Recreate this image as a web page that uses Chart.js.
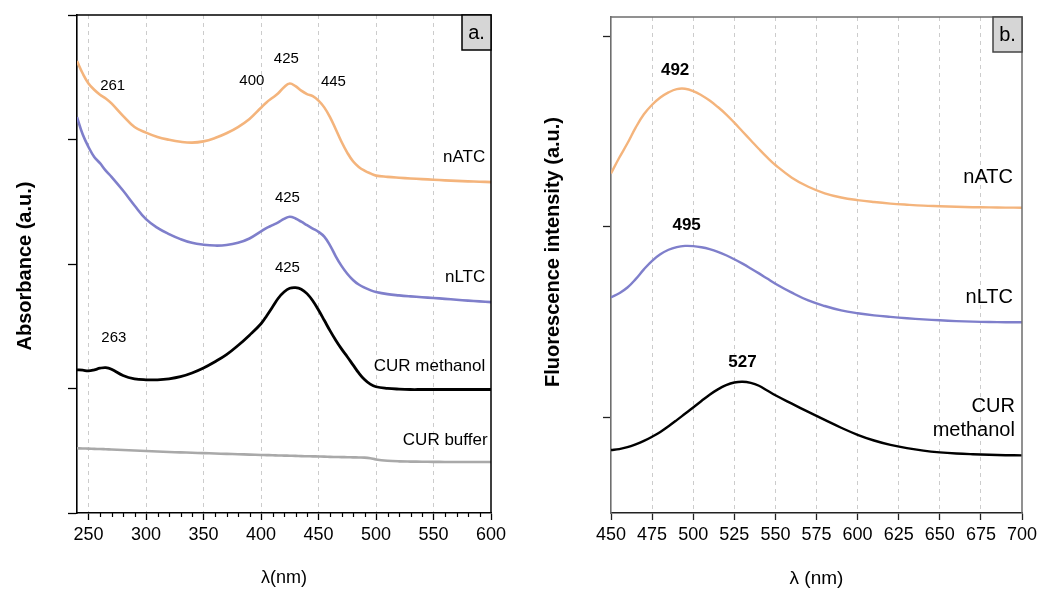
<!DOCTYPE html>
<html>
<head>
<meta charset="utf-8">
<title>CUR absorption and emission spectra</title>
<script src="https://cdn.jsdelivr.net/npm/chart.js@4.4.0/dist/chart.umd.min.js"></script>
<style>
  html, body { margin: 0; padding: 0; background: #fff; }
  #wrap { position: relative; width: 1055px; height: 590px; overflow: hidden; }
  #absChart { position: absolute; left: 0; top: 0; }
  #fluChart { position: absolute; left: 525px; top: 0; }
</style>
</head>
<body>
<div id="wrap">
  <canvas id="absChart" width="525" height="590"></canvas>
  <canvas id="fluChart" width="530" height="590"></canvas>
</div>
<script>
// --- PANEL a: UV-vis absorbance (a.u.) ---
const absWavelength = [240, 245, 250, 255, 260, 265, 270,
  280, 290, 300, 310, 320, 330, 340, 350, 360, 370, 380, 390,
  400, 405, 410, 415, 420, 425, 430, 435, 440, 445, 450, 455, 460, 465, 470, 475, 480, 485, 490, 495, 500,
  510, 520, 530, 540, 550, 560, 570, 580, 590, 600];
const absNATC = [3.630, 3.530, 3.450, 3.400, 3.360, 3.330, 3.290,
  3.190, 3.100, 3.055, 3.020, 2.998, 2.982, 2.975, 2.985, 3.012, 3.050, 3.100, 3.165,
  3.255, 3.300, 3.335, 3.372, 3.420, 3.450, 3.428, 3.392, 3.365, 3.348, 3.312, 3.258, 3.180, 3.082, 2.982, 2.895, 2.825, 2.780, 2.750, 2.728, 2.710,
  2.700, 2.693, 2.687, 2.682, 2.677, 2.672, 2.668, 2.664, 2.661, 2.658];
const absNLTC = [3.180, 3.040, 2.940, 2.860, 2.810, 2.750, 2.700,
  2.590, 2.470, 2.360, 2.290, 2.240, 2.200, 2.170, 2.155, 2.148, 2.152, 2.170, 2.205,
  2.262, 2.290, 2.312, 2.335, 2.362, 2.380, 2.366, 2.340, 2.312, 2.285, 2.258, 2.220, 2.150, 2.062, 1.985, 1.922, 1.872, 1.835, 1.810, 1.790, 1.775,
  1.758, 1.748, 1.740, 1.733, 1.727, 1.720, 1.713, 1.706, 1.700, 1.694];
const absCURMethanol = [1.150, 1.147, 1.142, 1.150, 1.163, 1.168, 1.155,
  1.105, 1.078, 1.070, 1.070, 1.078, 1.095, 1.125, 1.165, 1.215, 1.272, 1.345, 1.428,
  1.520, 1.585, 1.655, 1.725, 1.775, 1.805, 1.810, 1.798, 1.762, 1.705, 1.630, 1.548, 1.465, 1.388, 1.318, 1.255, 1.190, 1.125, 1.072, 1.035, 1.014,
  1.001, 0.995, 0.992, 0.992, 0.992, 0.992, 0.992, 0.992, 0.992, 0.992];
const absCURBuffer = [0.520, 0.518, 0.517, 0.515, 0.514, 0.512, 0.510,
  0.506, 0.502, 0.498, 0.494, 0.490, 0.487, 0.484, 0.481, 0.478, 0.475, 0.472, 0.469,
  0.466, 0.465, 0.464, 0.462, 0.461, 0.460, 0.459, 0.457, 0.456, 0.455, 0.454, 0.453, 0.451, 0.450, 0.449, 0.448, 0.447, 0.446, 0.445, 0.440, 0.430,
  0.420, 0.415, 0.413, 0.412, 0.411, 0.410, 0.410, 0.410, 0.410, 0.410];
const absXTicks = [250, 260, 270, 280, 290, 300, 310, 320, 330, 340, 350, 360, 370, 380, 390, 400,
  410, 420, 430, 440, 450, 460, 470, 480, 490, 500, 510, 520, 530, 540, 550, 560, 570, 580, 590, 600];
const absYTicks = [0, 1, 2, 3, 4];

// --- PANEL b: fluorescence intensity (a.u.) ---
const fluWavelength = [450, 455, 460, 465, 470, 475, 480, 485, 490, 495, 500, 505, 510, 515, 520, 525, 530, 535, 540, 545, 550,
  560, 570, 580, 590, 600, 610, 620, 630, 640, 650, 660, 670, 680, 690, 700];
const fluNATC = [1.780, 1.862, 1.938, 2.020, 2.090, 2.140, 2.178, 2.205, 2.222, 2.224, 2.212, 2.190, 2.162, 2.128, 2.090, 2.046, 2.000, 1.954, 1.908, 1.864, 1.824,
  1.758, 1.710, 1.676, 1.654, 1.640, 1.630, 1.622, 1.616, 1.611, 1.608, 1.605, 1.603, 1.602, 1.601, 1.600];
const fluNLTC = [1.130, 1.152, 1.182, 1.226, 1.277, 1.322, 1.356, 1.380, 1.394, 1.400, 1.399, 1.393, 1.383, 1.369, 1.351, 1.330, 1.307, 1.282, 1.256, 1.229, 1.202,
  1.155, 1.114, 1.085, 1.062, 1.047, 1.036, 1.028, 1.021, 1.015, 1.010, 1.006, 1.003, 1.001, 1.000, 1.000];
const fluCURMethanol = [0.330, 0.335, 0.345, 0.360, 0.378, 0.400, 0.425, 0.455, 0.487, 0.520, 0.553, 0.587, 0.620, 0.648, 0.670, 0.684, 0.688, 0.682, 0.667, 0.642, 0.617,
  0.573, 0.530, 0.488, 0.447, 0.410, 0.380, 0.357, 0.340, 0.327, 0.318, 0.312, 0.308, 0.305, 0.303, 0.302];
const fluXTicks = [450, 475, 500, 525, 550, 575, 600, 625, 650, 675, 700];
const fluYTicks = [0.5, 1.5, 2.5];

// --- annotations, anchored in data units ---
const absPeakLabels = [
  { text: '261', x: 271, y: 3.43 },
  { text: '400', x: 392, y: 3.47 },
  { text: '425', x: 422, y: 3.65 },
  { text: '445', x: 463, y: 3.46 },
  { text: '425', x: 423, y: 2.53 },
  { text: '425', x: 423, y: 1.97 },
  { text: '263', x: 272, y: 1.41 }
];
const absCurveNames = [
  { text: 'nATC', x: 595, y: 2.86 },
  { text: 'nLTC', x: 595, y: 1.89 },
  { text: 'CUR methanol', x: 595, y: 1.18 },
  { text: 'CUR buffer', x: 597, y: 0.58 }
];
const fluPeakLabels = [
  { text: '492', x: 489, y: 2.32 },
  { text: '495', x: 496, y: 1.51 },
  { text: '527', x: 530, y: 0.79 }
];
const fluCurveNames = [
  { text: 'nATC', x: 694.5, y: 1.76 },
  { text: 'nLTC', x: 694.5, y: 1.13 },
  { text: 'CUR', x: 695.7, y: 0.56 },
  { text: 'methanol', x: 695.7, y: 0.435 }
];

const FONT = "'Liberation Sans', Arial, Helvetica, sans-serif";
Chart.defaults.font.family = FONT;
Chart.defaults.color = '#000';

const ORANGE = '#f4b47c';
const PURPLE = '#7f7fcb';
const BLACK = '#000000';
const GREY = '#a9a9a9';

function series(label, xs, ys, color, width) {
  return {
    label: label,
    data: xs.map((x, i) => ({ x: x, y: ys[i] })),
    borderColor: color,
    borderWidth: width,
    pointRadius: 0,
    fill: false,
    tension: 0.4
  };
}

// frame, minor ticks, panel letter, annotations and axis titles
const panelDecor = {
  id: 'panelDecor',
  afterDraw(chart, args, o) {
    const { ctx, chartArea: a, scales: { x, y } } = chart;
    ctx.save();

    ctx.strokeStyle = o.frameColor;
    ctx.lineWidth = 1.5;
    ctx.beginPath();
    ctx.moveTo(a.left, a.top);
    ctx.lineTo(a.right, a.top);
    ctx.lineTo(a.right, a.bottom);
    ctx.stroke();

    if (o.minorTicks) {
      ctx.strokeStyle = '#000';
      ctx.lineWidth = 1.2;
      o.minorTicks.forEach(v => {
        if (v % 50 === 0) return;
        const px = Math.round(x.getPixelForValue(v)) + 0.5;
        ctx.beginPath();
        ctx.moveTo(px, a.bottom);
        ctx.lineTo(px, a.bottom + 4);
        ctx.stroke();
      });
    }

    // panel letter box
    const bw = 29, bh = 35;
    ctx.fillStyle = '#d6d6d6';
    ctx.fillRect(a.right - bw, a.top, bw, bh);
    ctx.strokeStyle = o.boxColor;
    ctx.lineWidth = 1.5;
    ctx.strokeRect(a.right - bw, a.top, bw, bh);
    ctx.fillStyle = '#000';
    ctx.font = '20px ' + FONT;
    ctx.textAlign = 'center';
    ctx.textBaseline = 'middle';
    ctx.fillText(o.letter, a.right - bw / 2, a.top + bh / 2 + 1);

    ctx.font = o.peakFont;
    ctx.textAlign = 'center';
    o.peaks.forEach(l => ctx.fillText(l.text, x.getPixelForValue(l.x), y.getPixelForValue(l.y)));

    ctx.font = o.nameFont;
    ctx.textAlign = 'right';
    o.names.forEach(l => ctx.fillText(l.text, x.getPixelForValue(l.x), y.getPixelForValue(l.y)));

    // axis titles
    ctx.textAlign = 'center';
    ctx.font = o.xTitleFont;
    ctx.fillText(o.xTitle, (a.left + a.right) / 2, o.xTitleY);
    ctx.save();
    ctx.translate(o.yTitleX, o.yTitleY);
    ctx.rotate(-Math.PI / 2);
    ctx.font = 'bold 20px ' + FONT;
    ctx.fillText(o.yTitle, 0, 0);
    ctx.restore();

    ctx.restore();
  }
};

const absChart = new Chart(document.getElementById('absChart'), {
  type: 'line',
  data: {
    datasets: [
      series('nATC', absWavelength, absNATC, ORANGE, 2.6),
      series('nLTC', absWavelength, absNLTC, PURPLE, 2.6),
      series('CUR methanol', absWavelength, absCURMethanol, BLACK, 2.8),
      series('CUR buffer', absWavelength, absCURBuffer, GREY, 2.6)
    ]
  },
  options: {
    responsive: false,
    animation: false,
    layout: { padding: { left: 0, right: 34, top: 15, bottom: 0 } },
    plugins: {
      legend: { display: false },
      tooltip: { enabled: false },
      panelDecor: {
        frameColor: '#000', boxColor: '#000', letter: 'a.',
        minorTicks: absXTicks,
        peaks: absPeakLabels, names: absCurveNames,
        peakFont: '15px ' + FONT, nameFont: '17px ' + FONT,
        xTitle: 'λ(nm)', xTitleFont: '18px ' + FONT, xTitleY: 578,
        yTitle: 'Absorbance (a.u.)', yTitleX: 25, yTitleY: 266
      }
    },
    scales: {
      x: {
        type: 'linear', min: 240, max: 600,
        afterBuildTicks: s => { s.ticks = absXTicks.filter(v => v % 50 === 0).map(v => ({ value: v })); },
        afterFit: s => { s.height = 77; },
        ticks: { font: { size: 18 }, padding: 4, maxRotation: 0, autoSkip: false },
        grid: {
          color: c => (c.tick && c.tick.value < 600 ? '#cccccc' : 'rgba(0,0,0,0)'),
          lineWidth: 1, tickLength: 7, tickColor: '#000', tickWidth: 1.3
        },
        border: { color: '#000', width: 1.6, dash: [4, 4] }
      },
      y: {
        min: 0, max: 4,
        afterBuildTicks: s => { s.ticks = absYTicks.map(v => ({ value: v })); },
        afterFit: s => { s.width = 77; },
        ticks: { display: false },
        grid: { drawOnChartArea: false, tickLength: 9, tickColor: '#000', tickWidth: 1.3 },
        border: { color: '#000', width: 1.6 }
      }
    }
  },
  plugins: [panelDecor]
});

const fluChart = new Chart(document.getElementById('fluChart'), {
  type: 'line',
  data: {
    datasets: [
      series('nATC', fluWavelength, fluNATC, ORANGE, 2.4),
      series('nLTC', fluWavelength, fluNLTC, PURPLE, 2.4),
      series('CUR methanol', fluWavelength, fluCURMethanol, BLACK, 2.4)
    ]
  },
  options: {
    responsive: false,
    animation: false,
    layout: { padding: { left: 0, right: 33, top: 17, bottom: 0 } },
    plugins: {
      legend: { display: false },
      tooltip: { enabled: false },
      panelDecor: {
        frameColor: '#6e6e6e', boxColor: '#444', letter: 'b.',
        minorTicks: null,
        peaks: fluPeakLabels, names: fluCurveNames,
        peakFont: 'bold 17px ' + FONT, nameFont: '20px ' + FONT,
        xTitle: 'λ (nm)', xTitleFont: '19px ' + FONT, xTitleY: 579,
        yTitle: 'Fluorescence intensity (a.u.)', yTitleX: 28, yTitleY: 252
      }
    },
    scales: {
      x: {
        type: 'linear', min: 450, max: 700,
        afterBuildTicks: s => { s.ticks = fluXTicks.map(v => ({ value: v })); },
        afterFit: s => { s.height = 77; },
        ticks: { font: { size: 18 }, padding: 4, maxRotation: 0, autoSkip: false },
        grid: {
          color: c => (c.tick && c.tick.value > 450 && c.tick.value < 700 ? '#cccccc' : 'rgba(0,0,0,0)'),
          lineWidth: 1, tickLength: 7, tickColor: '#222', tickWidth: 1.3
        },
        border: { color: '#222', width: 1.6, dash: [4, 4] }
      },
      y: {
        min: 0, max: 2.6,
        afterBuildTicks: s => { s.ticks = fluYTicks.map(v => ({ value: v })); },
        afterFit: s => { s.width = 86; },
        ticks: { display: false },
        grid: { drawOnChartArea: false, tickLength: 8, tickColor: '#222', tickWidth: 1.3 },
        border: { color: '#6e6e6e', width: 1.6 }
      }
    }
  },
  plugins: [panelDecor]
});
</script>
</body>
</html>
